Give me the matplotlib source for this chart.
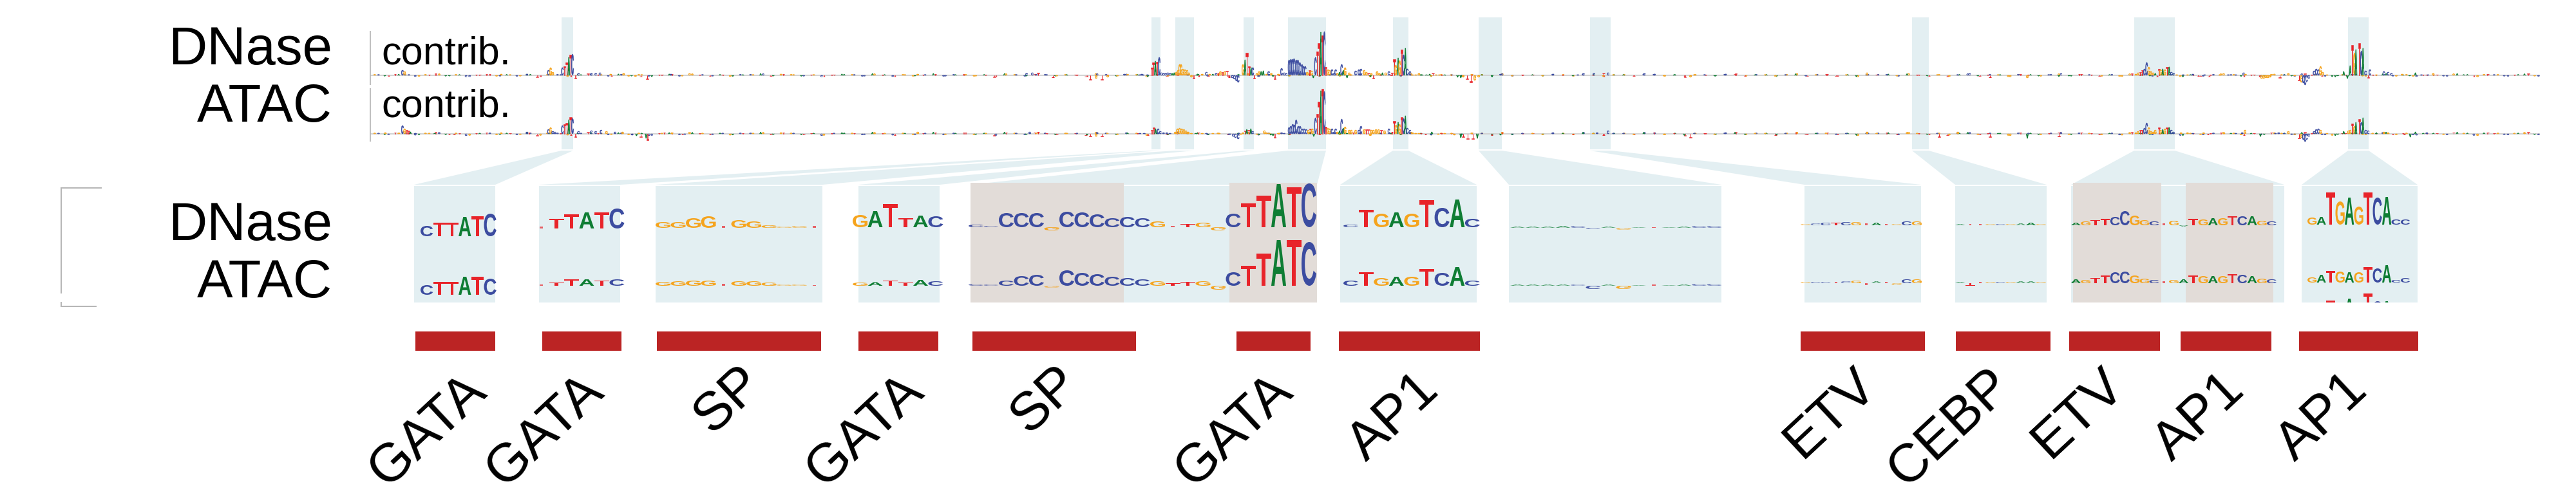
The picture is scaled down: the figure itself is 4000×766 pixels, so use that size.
import numpy as np
import matplotlib
matplotlib.use("Agg")
import matplotlib.pyplot as plt
from matplotlib.patches import PathPatch, Rectangle, Polygon
from matplotlib.path import Path
from matplotlib.textpath import TextPath
from matplotlib.font_manager import FontProperties
from matplotlib.transforms import Affine2D

# ---------- colours ----------
BASE_COLORS = {"A": "#0f7d34", "C": "#3c4ca0", "G": "#f5a41e", "T": "#e8242a"}
BAND = "#e3eff2"
TAN = "#e2dcd8"
BAR = "#bb2424"
AXIS = "#b4b4b4"

# ---------- highlighted windows: upper track -> lower panel ----------
top_left = [872, 1788, 1825, 1931, 2000, 2163, 2296, 2469, 2969, 3314, 3646]
top_right = [890, 1802, 1854, 1947, 2059, 2187, 2332, 2501, 2995, 3377, 3678]
low_left = [643, 837, 1018, 1333, 1507, 2081, 2343, 2802, 3036, 3216, 3574]
low_right = [769, 963, 1277, 1459, 2045, 2293, 2673, 2983, 3178, 3547, 3754]
tan_left = [1507, 1909, 3219, 3394]
tan_right = [1745, 2045, 3356, 3530]

# ---------- annotated motifs ----------
motif_names = ["GATA", "GATA", "SP", "GATA", "SP", "GATA", "AP1", "ETV", "CEBP", "ETV", "AP1", "AP1"]
motif_left = [645, 842, 1020, 1333, 1510, 1920, 2079, 2796, 3037, 3213, 3386, 3570]
motif_right = [769, 965, 1275, 1457, 1764, 2035, 2298, 2989, 3184, 3354, 3527, 3755]
label_x = [664, 846, 1130, 1343, 1622, 1916, 2165, 2842, 3028, 3227, 3416, 3607]
label_y = [668, 668, 621, 668, 621, 668, 648, 642, 664, 642, 648, 648]

# ---------- logos in the lower panel ----------
logo_seq = ["CTTATC", "TTTATC", "GGGGTGGGGGT", "GATTAC", "CCCCCGCCCCCCGTTGGCTTATC",
            "CTGAGTCAC", "AAAACCAGATAACC", "GCCTCGTATGCG", "ATTGCGAAG",
            "AGTTCCGGCTGATGAGTCAGC", "GATGAGTCACC"]
logo_x0 = [653, 829, 1018, 1324, 1504, 2086, 2345, 2796, 3036, 3216, 3583]
logo_w = [19.7, 23.5, 23.5, 23.5, 23.5, 23.6, 23.5, 15.7, 15.7, 15.2, 14.5]
logo_base_d = [367, 355, 354, 353, 353, 353, 354, 350, 350, 350, 349]
logo_base_a = [458, 444, 444, 444, 444, 444, 444, 440, 440, 440, 439]
logo_dnase = [
    [16, 21, 21, 30, 31, 35],
    [3, 15, 22, 25, 25, 31],
    [9, 9, 15, 18, 3, 12, 10, 4, 2, 3, 3],
    [19, 25, 36, 14, 18, 17],
    [4, 2, 22, 22, 22, -5, 24, 23, 20, 14, 16, 14, 9, 2, 5, 7, -5, 21, 37, 49, 67, 62, 68],
    [4, 27, 21, 23, 21, 42, 30, 43, 13],
    [2, 2, 2, 3, 3, -2, 2, -3, 1, 1, 1, 2, 3, 3],
    [2, 3, 4, 4, 5, 5, 3, 4, 2, 2, 6, 6],
    [2, 2, 2, 2, 2, 2, 3, 4, 2],
    [4, 6, 8, 10, 13, 22, 15, 8, 6, 3, 7, -2, 10, 9, 11, 11, 14, 14, 14, 7, 6],
    [11, 12, 50, 36, 42, 28, 50, 42, 43, 8, 8],
]
logo_atac = [
    [15, 20, 20, 28, 28, 25],
    [2, 5, 10, 10, 8, 10],
    [6, 7, 8, 8, 3, 7, 7, 5, 2, 2, 1],
    [5, 5.5, 8, 5, 9, 7],
    [3, 2, 8, 15, 17, -3, 24, 20, 18, 14, 12, 10, 7, 4, 6, 7, -6, 21, 31, 50, 71, 71, 68],
    [8, 21, 12, 14, 14, 26, 20, 29, 8],
    [2, 2, 2, 2, 2, -5, 2, -5, 1, 2, 1, 2, 3, 3],
    [2, 2, 2, 2, 3, 4, -3, 3, 2, -3, 6, 6],
    [2, -4, 2, 2, 2, 2, 3, 3, 2],
    [6, 5, 8, 12, 17, 18, 12, 7, 5, 3, 5, 6, 12, 11, 11, 11, 14, 13, 11, 7, 6],
    [8, 12, 18, 17, 16, 16, 24, 22, 27, 4, 7],
]
clipped_row_heights = [8, 10, 23, 12, 26, 14, 34, 22, 22, 3, 3]

# ---------- contribution tracks: (position, base, score) ----------
dnase_left = [(150,'C',8),(160,'G',6),(610,'G',2),(730,'C',2),(830,'C',8),(840,'G',12),(850,'G',5),
    (895,'C',12),(905,'T',14),(915,'T',20),(925,'A',28),(933,'T',32),(942,'C',33),(955,'T',-5),
    (970,'C',3),(1030,'C',3),(1050,'C',3),(1070,'C',4),(1120,'G',2),(1180,'G',3),(1235,'G',-2),
    (1260,'T',-2),(1290,'T',-6),(1400,'C',2)]
atac_left = [(70,'G',2),(150,'C',13),(160,'G',8),(170,'T',6),(178,'T',5),(187,'A',3),(210,'C',1),
    (300,'A',1),(390,'T',-1),(610,'G',2),(730,'C',3),(740,'T',2),(830,'C',7),(840,'G',10),(850,'C',4),
    (860,'C',3),(895,'C',13),(905,'T',15),(915,'T',17),(925,'A',22),(933,'T',26),(942,'C',24),
    (955,'T',-5),(970,'C',4),(1030,'C',5),(1050,'C',4),(1075,'C',6),(1100,'G',4),(1140,'C',3),
    (1175,'G',3),(1220,'C',-2),(1240,'A',-3),(1260,'T',-5),(1285,'A',-7),(1292,'T',-10),
    (1370,'T',2),(1405,'G',2),(1465,'C',-1)]
dnase_mid = [(0,'C',1),(15,'C',1),(35,'C',1),(55,'T',12),(63,'T',20),(72,'A',22),(80,'T',21),(90,'C',28),
    (100,'C',4),(110,'C',3),(120,'C',3),(130,'C',4),(140,'C',3),(150,'A',3),(160,'A',4),(170,'G',5),
    (178,'G',8),(185,'G',17),(192,'G',17),(200,'G',10),(210,'G',9),(220,'G',8),(228,'G',4),(240,'G',-3),
    (250,'T',-5),(265,'A',1),(275,'T',-2),(290,'G',2),(310,'C',5),(325,'G',2),(340,'A',2),(355,'C',3),
    (365,'T',3),(375,'G',6),(385,'T',5),(395,'G',6),(405,'T',7),(415,'T',-3),(430,'C',-4),(440,'C',-6),
    (450,'C',-9),(458,'C',-11),(480,'G',17),(490,'A',24),(498,'T',35),(508,'T',14),(518,'A',12),
    (526,'C',12),(532,'T',-5),(545,'G',3),(555,'G',6),(565,'A',6),(575,'A',7),(590,'G',2),(600,'C',6),
    (612,'G',3),(620,'A',-2),(628,'T',-6),(645,'G',2),(660,'C',11),(672,'C',4),(682,'C',3),(695,'C',24),
    (703,'C',25),(710,'C',25),(718,'C',26),(728,'C',24),(736,'C',24),(745,'C',20),(755,'C',17),
    (762,'C',14),(770,'C',14),(780,'G',5),(790,'T',8),(800,'G',7),(808,'A',-4),(818,'C',28),(826,'T',37),
    (834,'T',50),(843,'A',67),(851,'T',62),(859,'C',68),(866,'T',13),(876,'G',9),(884,'G',8),(895,'C',9),
    (905,'C',3),(912,'C',9),(920,'G',3),(930,'A',5),(940,'C',17),(948,'A',8),(956,'G',12),(965,'A',-4),
    (975,'G',4),(985,'G',1),(1005,'C',7),(1020,'C',9),(1030,'C',10),(1045,'G',8),(1055,'G',5),(1065,'T',3),
    (1078,'G',3),(1088,'T',-5),(1105,'G',6),(1115,'G',3),(1130,'A',4),(1145,'G',4),(1160,'C',6),(1175,'T',4),
    (1185,'T',25),(1192,'G',16),(1203,'A',27),(1210,'G',23),(1220,'T',40),(1228,'C',32),(1237,'A',42),
    (1246,'C',10),(1258,'C',6),(1270,'G',1),(1285,'G',1),(1300,'G',3),(1315,'A',1),(1335,'A',1),
    (1350,'A',2),(1365,'T',3),(1380,'G',1),(1395,'G',1),(1420,'A',1),(1450,'G',1),(1480,'A',-3),(1495,'A',-4)]
atac_mid = [(0,'C',1),(20,'C',1),(55,'T',6),(65,'T',10),(73,'A',8),(85,'C',8),(95,'C',4),(110,'C',2),
    (125,'C',2),(140,'C',1),(165,'G',3),(175,'G',8),(185,'G',9),(195,'G',8),(205,'G',7),(215,'G',5),
    (225,'G',3),(240,'G',1),(260,'A',1),(290,'G',1),(310,'C',1),(340,'G',1),(370,'G',1),(420,'C',-1),
    (435,'C',-4),(445,'C',-6),(458,'C',-8),(470,'G',-1),(480,'G',2),(490,'T',5),(498,'A',7),(507,'T',6),
    (517,'A',8),(525,'C',4),(545,'G',-1),(580,'G',5),(590,'G',2),(610,'A',-2),(620,'A',-3),(628,'T',-6),
    (645,'G',1),(660,'C',2),(672,'C',1),(695,'C',10),(703,'C',12),(712,'C',15),(720,'C',14),(728,'C',22),
    (738,'C',12),(746,'C',12),(755,'C',8),(765,'C',8),(775,'C',7),(785,'G',6),(795,'T',8),(803,'G',8),
    (810,'A',-4),(818,'C',25),(826,'T',31),(834,'T',50),(843,'A',67),(851,'T',70),(859,'C',66),(866,'T',11),
    (876,'G',9),(884,'G',8),(895,'C',8),(905,'C',3),(912,'C',8),(920,'G',3),(930,'A',5),(940,'C',23),
    (948,'A',9),(956,'G',11),(965,'A',1),(975,'G',6),(985,'G',6),(995,'T',2),(1005,'G',6),(1020,'C',6),
    (1030,'C',12),(1045,'G',7),(1055,'T',7),(1065,'T',7),(1078,'G',6),(1088,'G',6),(1100,'G',7),(1112,'G',7),
    (1125,'T',6),(1140,'G',5),(1160,'C',8),(1175,'T',3),(1185,'T',20),(1193,'G',14),(1203,'A',18),
    (1210,'G',15),(1220,'T',26),(1228,'C',24),(1237,'A',28),(1246,'C',9),(1258,'C',6),(1270,'G',2),
    (1285,'G',1),(1300,'G',1),(1330,'T',-1),(1360,'A',3),(1390,'G',-1),(1420,'G',1),(1465,'G',-2),(1495,'A',-6)]
dnase_right = [(110,'G',2),(120,'G',4),(130,'T',5),(140,'T',8),(150,'C',10),(160,'C',20),(170,'G',13),
    (180,'G',6),(190,'G',4),(200,'A',3),(210,'T',-2),(218,'T',10),(225,'G',9),(235,'A',10),(245,'G',9),
    (255,'T',13),(265,'A',13),(275,'C',5),(285,'C',3),(300,'G',1),(330,'C',1),(350,'G',1),(375,'C',2),
    (400,'T',-1),(430,'C',1),(450,'T',-2),(500,'G',1),(540,'C',1),(575,'C',1),(612,'C',4),(620,'G',2),
    (685,'T',-2),(695,'G',-5),(705,'G',-5),(715,'G',-4),(725,'G',-4),(735,'G',-3),(780,'T',-4),(800,'C',1),
    (820,'G',3),(850,'G',-1),(870,'T',-8),(880,'G',-11),(890,'C',-12),(898,'C',-15),(905,'C',-10),(915,'C',-5),
    (940,'C',7),(950,'C',10),(960,'C',9),(970,'G',14),(980,'G',5),(1000,'G',1),(1050,'A',-1),(1078,'A',6),
    (1095,'A',-5),(1108,'A',15),(1118,'T',47),(1128,'G',35),(1135,'A',40),(1150,'T',50),(1160,'C',38),
    (1168,'A',42),(1180,'C',7),(1192,'T',-4),(1200,'C',9),(1230,'G',1),(1265,'C',6),(1285,'C',5),(1300,'C',3),
    (1350,'G',2),(1385,'A',-1),(1412,'A',4),(1440,'C',1),(1470,'C',1),(1495,'G',3)]
atac_right = [(110,'G',2),(120,'G',4),(130,'T',6),(140,'T',6),(150,'C',9),(160,'C',17),(170,'G',10),
    (180,'G',4),(190,'G',3),(200,'G',6),(218,'T',10),(225,'G',6),(235,'A',7),(245,'G',8),(255,'T',10),
    (265,'A',10),(275,'C',6),(285,'C',3),(320,'G',2),(350,'G',2),(375,'C',1),(425,'G',2),(445,'T',-1),
    (520,'G',1),(575,'C',1),(605,'C',2),(618,'G',6),(690,'A',-4),(760,'C',1),(775,'C',2),(800,'C',1),
    (820,'G',4),(850,'G',-1),(870,'T',-7),(880,'G',-6),(890,'C',-9),(898,'C',-12),(905,'C',-9),(915,'C',-4),
    (940,'C',4),(950,'C',7),(960,'C',8),(970,'G',6),(1000,'G',1),(1050,'A',-1),(1078,'A',4),(1100,'G',5),
    (1108,'G',6),(1118,'T',16),(1128,'G',12),(1135,'A',18),(1150,'T',23),(1160,'C',18),(1168,'A',25),
    (1180,'C',6),(1192,'C',5),(1230,'A',2),(1265,'G',3),(1285,'G',2),(1360,'T',-1),(1388,'A',-5),(1412,'A',3),(1465,'C',2)]
dnase_other = [(1425,'G',2),(1594,'C',3),(1603,'C',4),(1612,'T',4),(1635,'T',-3),(1693,'T',-7),(1702,'G',-5),
    (1711,'T',-7),(1720,'G',-3),(1746,'C',2),(1773,'C',2),(2272,'G',-3),(2278,'T',-6),(2284,'T',-11),
    (2290,'G',-8),(2296,'G',-3),(2330,'C',2),(2450,'C',1),(2475,'C',3),(2490,'T',3),(2497,'C',4),
    (2625,'G',-3),(2899,'G',4),(3090,'T',-3),(3148,'G',-4),(3197,'A',-2)]
atac_other = [(1425,'G',3),(1599,'C',3),(1612,'T',3),(1693,'T',-4),(1702,'G',-4),(1711,'T',-4),(2272,'T',-5),
    (2279,'T',-8),(2287,'T',-8),(2294,'A',-7),(2330,'A',-2),(2480,'C',2),(2497,'C',5),(2625,'T',-6),
    (2899,'G',3),(3011,'T',-5),(3040,'G',3),(3090,'T',-5),(3148,'A',-7),(3197,'T',-4)]
background_bases = ("GATCCGTAGCTTGACATGCGATTCAGGCTACGTTAGCCATGGATCTAGCATCGGTACCTGATAGCTCAGTTGCAC"
                    "GGATTCACGTAGCCTAGGTCATCGATGCAAGTCTGAGCTTACGGCATAGTCCGATGTACTGCAAGGTCTTAGCC"
                    "ACGTTGGACTCAGTAGCCATTGCGTACGAATCCGGTTAGACTGCATCGTAGGCTTCAAGTGCATCGGA")
background_scores = [1, -1, 1.5, 1, -1.5, 1, 2, -1, 1, -2, 1, 1.5, -1, 1, -1, 1.5, -2, 1, 1, -1.5, 1, 2, 1, -1, 1.5,
    -1, 1, -2, 1, 1.5, -1, 2, 1, -1, 1, -1.5, 1, 1, 2, -1, 1.5, 1, -1, 1, -2, 1, 1.5, 1, -1, 2,
    1, -1.5, 1, -1, 1, 2, -1, 1, 1.5, -1, 1, -2, 2, 1, -1, 1.5, 1, -1, 1, 1, -1.5, 2, 1, -1, 1.5,
    1, -2, 1, -1, 2, 1, 1.5, -1, 1, -1, 1, 2, -1.5, 1, 1, -1, 1.5, 2, -1, 1, -1, 1, 1.5, -2, 1,
    1, -1, 2, 1, -1.5, 1, 1, -1, 1.5, 1, -2, 2, -1, 1, 1, -1, 1.5, 1, -1, 2, 1, -1.5, 1, 1, -1,
    2, 1.5, -1, 1, -2, 1, 1, -1, 1.5, 2, -1, 1, 1, -1.5, 1, 2, -1, 1, 1.5, -1, 1, -2, 1, 1, 1.5,
    -1, 2, 1, -1, 1, -1.5, 1, 2, -1, 1, 1, -2, 1.5, 1, -1, 1, 2, -1, 1.5, 1, -1, 1, -1.5, 2, 1,
    -1, 1, 1.5, -2, 1, -1, 1, 2, 1, -1.5, 1, -1, 1.5, 1, -1, 2, 1, -1, -2, 1, 1.5, -1, 1, 2, -1,
    1, -1.5, 1, 1, -1, 2, 1, -2, 1.5, 1, -1, 1, 2, -1]

plt.rcParams["font.family"] = ["Liberation Sans", "DejaVu Sans"]
fp_bold = FontProperties(family="Liberation Sans", weight="bold")

fig = plt.figure(figsize=(40, 7.66), dpi=100, facecolor="white")
ax = fig.add_axes([0, 0, 1, 1])
ax.set_xlim(0, 4000)
ax.set_ylim(766, 0)
ax.axis("off")

GLYPHS = {}
for ch in "ACGT":
    tp = TextPath((0, 0), ch, size=1, prop=fp_bold)
    ext = tp.get_extents()
    GLYPHS[ch] = Path(tp.vertices.copy(), tp.codes.copy()).transformed(
        Affine2D().translate(-ext.x0, -ext.y0).scale(1 / ext.width, 1 / ext.height))


def letter(ch, x, w, base, h, lw=0.0, z=5, clip=None, alpha=1.0):
    """Draw one glyph; positive scores rise from the baseline, negative ones hang upside down."""
    path = GLYPHS[ch].transformed(Affine2D().scale(w, -h).translate(x, base))
    patch = PathPatch(path, facecolor=BASE_COLORS[ch], edgecolor=BASE_COLORS[ch] if lw else "none",
                      lw=lw, zorder=z, alpha=alpha)
    ax.add_patch(patch)
    if clip is not None:
        patch.set_clip_path(clip)


# bands and connectors
for a, b, c, d in zip(top_left, top_right, low_left, low_right):
    ax.add_patch(Rectangle((a, 27), b - a, 205, fc=BAND, ec="none", zorder=1))
    ax.add_patch(Polygon([(a, 234), (b, 234), (d, 287), (c, 287)], fc=BAND, ec="none", zorder=1))
    ax.add_patch(Rectangle((c, 289), d - c, 181, fc=BAND, ec="none", zorder=1))
for a, b in zip(tan_left, tan_right):
    ax.add_patch(Rectangle((a, 284), b - a, 186, fc=TAN, ec="none", zorder=1.5))

# contribution tracks
TRACK_W = 3.4
bg_n = len(background_scores)
bg_forward = np.linspace(580, 3940, bg_n)
bg_backward = np.linspace(3934, 586, bg_n)
for k, (baseline, left, mid, right, other) in enumerate([(117, dnase_left, dnase_mid, dnase_right, dnase_other),
                                                         (208, atac_left, atac_mid, atac_right, atac_other)]):
    ax.plot([575, 3944], [baseline, baseline], color="#d2d2d2", lw=1.4, zorder=2, solid_capstyle="butt")
    for x, ch, s in zip(bg_forward, background_bases, background_scores):
        letter(ch, x, TRACK_W, baseline, s * 1.4, lw=0.4, z=3, alpha=0.85)
    for x, ch, s in zip(bg_backward, background_bases[::-1 if k else 1], background_scores[::-1]):
        letter(ch, x, TRACK_W, baseline, s * 1.2, lw=0.4, z=3, alpha=0.85)
    for d, ch, s in left:
        letter(ch, 575 + d / 3 - TRACK_W / 2, TRACK_W, baseline, s, lw=0.4)
    for d, ch, s in mid:
        letter(ch, 1770 + d / 3 - TRACK_W / 2, TRACK_W, baseline, s, lw=0.4)
    for d, ch, s in right:
        letter(ch, 3280 + d / 3 - TRACK_W / 2, TRACK_W, baseline, s, lw=0.4)
    for x, ch, s in other:
        letter(ch, x - TRACK_W / 2, TRACK_W, baseline, s, lw=0.4)

# vertical ticks on the track axis
for y0, y1 in [(48, 132), (137, 220)]:
    ax.plot([575, 575], [y0, y1], color=AXIS, lw=1.2, zorder=2, solid_capstyle="butt")

# lower panel logos
for seq, x0, w, bd, ba, dn, at in zip(logo_seq, logo_x0, logo_w, logo_base_d, logo_base_a, logo_dnase, logo_atac):
    for i, ch in enumerate(seq):
        letter(ch, x0 + i * w, w * 0.98, bd, dn[i], alpha=1.0 if abs(dn[i]) > 3 else 0.7)
        letter(ch, x0 + i * w, w * 0.98, ba, at[i], alpha=1.0 if abs(at[i]) > 3 else 0.7)
clip_rect = Rectangle((3574, 289), 180, 181, transform=ax.transData)
for i, ch in enumerate(logo_seq[-1]):
    letter(ch, logo_x0[-1] + i * logo_w[-1], logo_w[-1] * 0.98, 490, clipped_row_heights[i], clip=clip_rect)

# bracket
ax.plot([157, 95, 95], [292, 292, 455], color=AXIS, lw=1.4, zorder=2, solid_joinstyle="miter")
ax.plot([95, 95, 149], [470, 476, 476], color=AXIS, lw=1.4, zorder=2, solid_joinstyle="miter")

# motif bars and names
for l, r, name, lx, ly in zip(motif_left, motif_right, motif_names, label_x, label_y):
    ax.add_patch(Rectangle((l, 515), r - l, 30, fc=BAR, ec="none", zorder=3))
    ax.text(lx, ly, name, rotation=43, ha="center", va="center", fontsize=60.5, color="black", zorder=6)

# labels
for y, t in [(100, "DNase"), (189, "ATAC"), (373, "DNase"), (462, "ATAC")]:
    ax.text(516, y, t, ha="right", va="baseline", fontsize=60, color="black", zorder=6)
for y in (99, 182):
    ax.text(592, y, "contrib.", ha="left", va="baseline", fontsize=44, color="black", zorder=6)

fig.savefig("out.png", dpi=100, facecolor="white")
